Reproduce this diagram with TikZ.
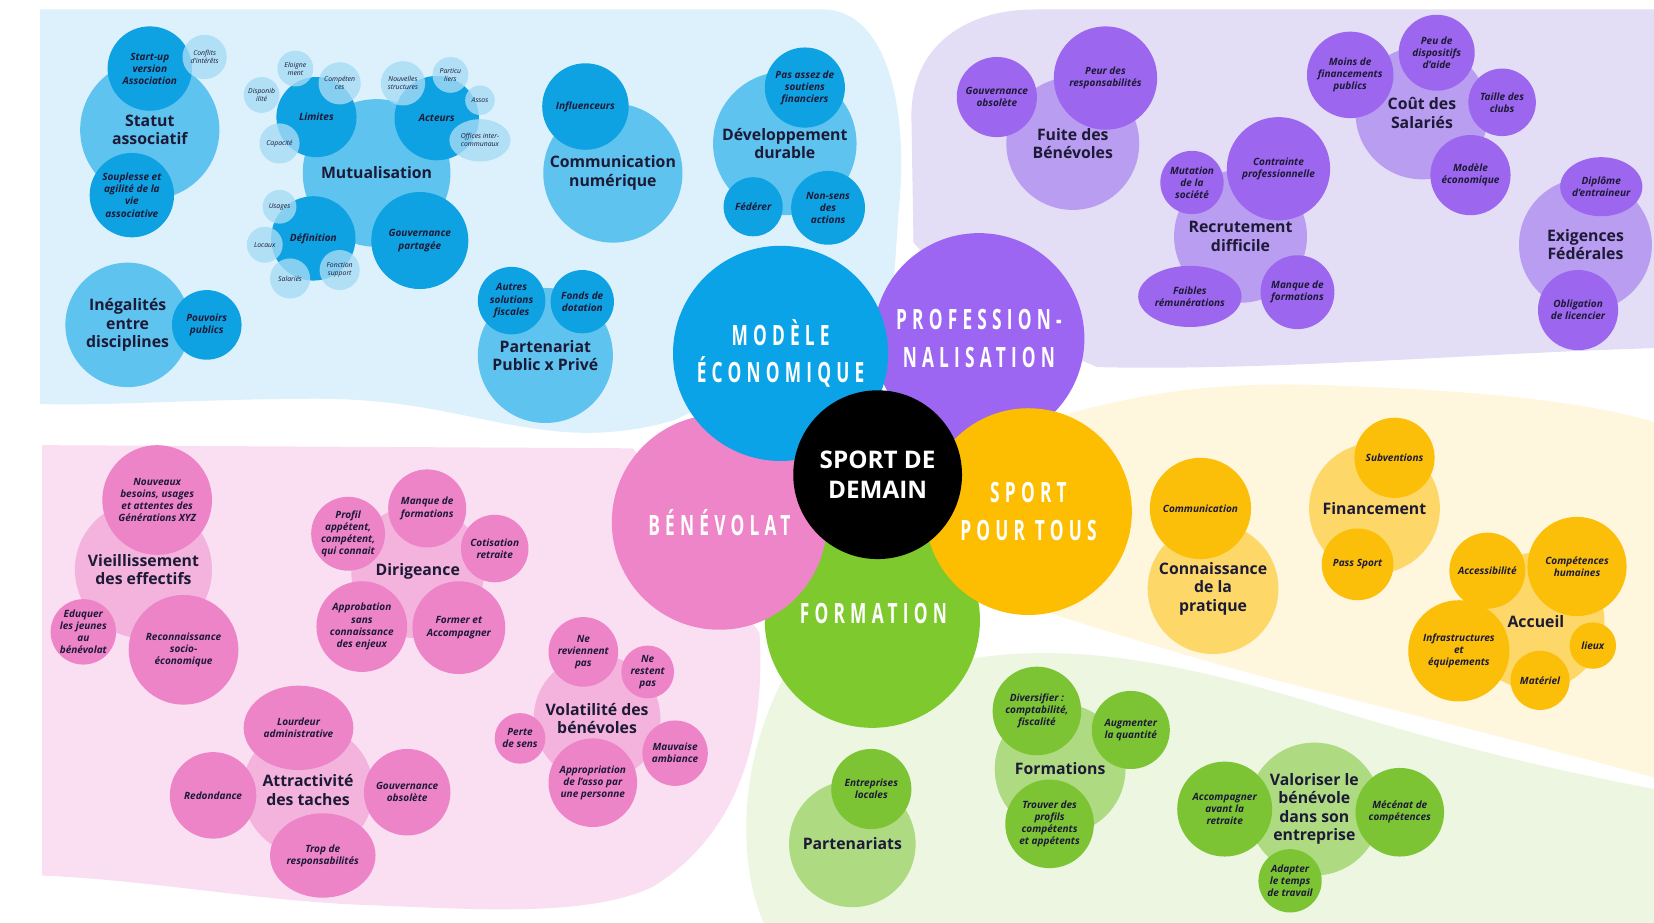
\documentclass[tikz,border=0pt]{standalone}
\usepackage{fontspec}
\usepackage{graphicx}
\setmainfont{Open Sans}
\newfontfamily\catfont[LetterSpace=30]{Open Sans}
\usetikzlibrary{shapes.geometric}

\definecolor{ink}{HTML}{1C1A36}
\definecolor{blueBg}{HTML}{DDF1FC}
\definecolor{blueA}{HTML}{5EC3EF}
\definecolor{blueB}{HTML}{0FA2E3}
\definecolor{blueC}{HTML}{A6DBF5}
\definecolor{blueM}{HTML}{0AA3E8}
\definecolor{purpleBg}{HTML}{E4DDF6}
\definecolor{purpleA}{HTML}{B99DF1}
\definecolor{purpleB}{HTML}{9C67EE}
\definecolor{purpleM}{HTML}{9D66F2}
\definecolor{yellowBg}{HTML}{FFF6DE}
\definecolor{yellowA}{HTML}{FDD868}
\definecolor{yellowB}{HTML}{FBBF0A}
\definecolor{yellowM}{HTML}{FDBD00}
\definecolor{greenBg}{HTML}{ECF6E1}
\definecolor{greenA}{HTML}{AEDB82}
\definecolor{greenB}{HTML}{7CC434}
\definecolor{greenM}{HTML}{7DC92E}
\definecolor{pinkBg}{HTML}{FADEF1}
\definecolor{pinkA}{HTML}{F4B3DC}
\definecolor{pinkB}{HTML}{EE84C8}
\definecolor{pinkM}{HTML}{EE85C8}

\newcommand{\squash}[1]{\scalebox{.62}[1]{#1}}

\tikzstyle{bub} = [circle, inner sep=0pt, align=center, text=ink]
\tikzstyle{lone} = [bub, font=\fontsize{15}{17.5}\selectfont\bfseries]
\tikzstyle{ltwo} = [bub, font=\fontsize{9.5}{11.5}\selectfont\bfseries\itshape]
\tikzstyle{lthree} = [bub, font=\fontsize{6.5}{7.5}\selectfont\itshape, fill=blueC, fill opacity=.8, text opacity=1]
\tikzstyle{theme} = [circle, inner sep=0pt, align=center, text=white, font=\catfont\bfseries\fontsize{26.5}{35.5}\selectfont]

\begin{document}
\begin{tikzpicture}[x=1pt, y=-1pt]
  \useasboundingbox (0,0) rectangle (1568,875);
  \fill[white] (0,0) rectangle (1568,875);

  % background areas
  \fill[blueBg] (38,383) -- (38,9) -- (780,9) .. controls (840,9) and (862,100) .. (852,200) -- (845,300) -- (640,398)
    .. controls (600,410) and (560,413) .. (520,408) .. controls (450,400) and (400,378) .. (300,378)
    .. controls (200,378) and (100,385) .. (38,383) -- cycle;
  \fill[purpleBg] (980,9) -- (1568,9) -- (1568,330) .. controls (1400,335) and (1200,352) .. (1040,348)
    -- (930,300) -- (866,230) -- (864,110) .. controls (864,40) and (920,9) .. (980,9) -- cycle;
  \fill[yellowBg] (985,400) .. controls (1080,372) and (1150,362) .. (1250,365)
    .. controls (1400,370) and (1500,380) .. (1568,400) -- (1568,737)
    .. controls (1450,705) and (1350,680) .. (1250,655) .. controls (1150,630) and (1080,608) .. (975,575) -- cycle;
  \fill[greenBg] (750,630) -- (900,628) .. controls (1000,608) and (1100,622) .. (1250,668)
    .. controls (1400,715) and (1500,735) .. (1568,748) -- (1568,875) -- (724,875)
    .. controls (700,820) and (697,720) .. (750,630) -- cycle;
  \fill[pinkBg] (40,830) -- (40,422) -- (600,425) -- (720,600) .. controls (726,700) and (700,790) .. (620,840)
    .. controls (560,870) and (450,862) .. (350,858) .. controls (250,855) and (150,835) .. (40,830) -- cycle;

  % modele economique
  \node[lone, fill=blueA, minimum size=132] (statut) at (142,123) {Statut\\associatif};
  \node[ltwo, fill=blueB, minimum size=80] (startup) at (142,65) {Start-up\\version\\Association};
  \node[lthree, minimum size=42] (conflits) at (194,54) {Conflits\\d'intérêts};
  \node[ltwo, fill=blueB, minimum size=80] (souplesse) at (125,185) {Souplesse et\\agilité de la\\vie\\associative};
  \node[lone, fill=blueA, minimum size=118] (inegal) at (121,308) {Inégalités\\entre\\disciplines};
  \node[ltwo, fill=blueB, minimum size=66] (pouvoirs) at (196,308) {Pouvoirs\\publics};

  \node[lone, fill=blueA, minimum size=140] (mutual) at (357,164) {Mutualisation};
  \node[ltwo, fill=blueB, minimum size=76] (limites) at (300,111) {Limites};
  \node[ltwo, fill=blueB, minimum size=80] (acteurs) at (414,112) {Acteurs};
  \node[ltwo, fill=blueB, minimum size=80] (definition) at (297,226) {Définition};
  \node[ltwo, fill=blueB, minimum size=92] (gouvpart) at (398,228) {Gouvernance\\partagée};
  \node[lthree, minimum size=34] (eloign) at (280,65) {Eloigne\\ment};
  \node[lthree, minimum size=40] (compet) at (322,79) {Compéten\\ces};
  \node[lthree, minimum size=34] (dispo) at (248,90) {Disponib\\ilité};
  \node[lthree, minimum size=38] (capac) at (265,136) {Capacité};
  \node[lthree, minimum size=42] (nouv) at (382,79) {Nouvelles\\structures};
  \node[lthree, minimum size=34] (partic) at (427,71) {Particu\\liers};
  \node[lthree, minimum size=28] (assos) at (455,95) {Assos};
  \node[lthree, ellipse, minimum width=58, minimum height=40] (offices) at (455,133) {Offices inter-\\communaux};
  \node[lthree, minimum size=32] (usages) at (265,196) {Usages};
  \node[lthree, minimum size=34] (locaux) at (251,232) {Locaux};
  \node[lthree, minimum size=38] (salaries) at (275,264) {Salariés};
  \node[lthree, minimum size=38] (fonction) at (322,256) {Fonction\\support};

  \node[lone, fill=blueA, minimum size=132] (comnum) at (581,164) {Communication\\numérique};
  \node[ltwo, fill=blueB, minimum size=82] (influ) at (555,101) {Influenceurs};

  \node[lone, fill=blueA, minimum size=136] (devdur) at (744,136) {Développement\\durable};
  \node[ltwo, fill=blueB, minimum size=76] (pasassez) at (763,83) {Pas assez de\\soutiens\\financiers};
  \node[ltwo, fill=blueB, minimum size=56] (federer) at (714,196) {Fédérer};
  \node[ltwo, fill=blueB, minimum size=70] (nonsens) at (785,197) {Non-sens\\des\\actions};

  \node[lone, fill=blueA, minimum size=128] (ppp) at (517,337) {Partenariat\\Public x Privé};
  \node[ltwo, fill=blueB, minimum size=64] (autres) at (485,285) {Autres\\solutions\\fiscales};
  \node[ltwo, fill=blueB, minimum size=60] (fonds) at (552,286) {Fonds de\\dotation};

  % professionnalisation
  \node[lone, fill=purpleA, minimum size=126] (fuite) at (1017,136) {Fuite des\\Bénévoles};
  \node[ltwo, fill=purpleB, minimum size=76] (gouvobs) at (945,92) {Gouvernance\\obsolète};
  \node[ltwo, fill=purpleB, minimum size=98] (peur) at (1048,74) {Peur des\\responsabilités};

  \node[lone, fill=purpleA, minimum size=126] (recrut) at (1176,224) {Recrutement\\difficile};
  \node[ltwo, fill=purpleB, minimum size=60] (mutation) at (1130,173) {Mutation\\de la\\société};
  \node[ltwo, fill=purpleB, minimum size=98] (contrainte) at (1212,160) {Contrainte\\professionnelle};
  \node[ltwo, ellipse, fill=purpleB, minimum width=98, minimum height=58] (faibles) at (1128,281) {Faibles\\rémunérations};
  \node[ltwo, fill=purpleB, minimum size=70] (manque) at (1230,277) {Manque de\\formations};

  \node[lone, fill=purpleA, minimum size=126] (cout) at (1348,107) {Coût des\\Salariés};
  \node[ltwo, fill=purpleB, minimum size=82] (moins) at (1280,71) {Moins de\\financements\\publics};
  \node[ltwo, fill=purpleB, minimum size=72] (peu) at (1362,50) {Peu de\\dispositifs\\d'aide};
  \node[ltwo, fill=purpleB, minimum size=64] (taille) at (1424,97) {Taille des\\clubs};
  \node[ltwo, fill=purpleB, minimum size=76] (modeco) at (1394,166) {Modèle\\économique};

  \node[lone, fill=purpleA, minimum size=126] (exig) at (1503,232) {Exigences\\Fédérales};
  \node[ltwo, ellipse, fill=purpleB, minimum width=72, minimum height=56] (diplome) at (1518,177) {Diplôme\\d'entraineur};
  \node[ltwo, fill=purpleB, minimum size=76] (oblig) at (1496,294) {Obligation\\de licencier};

  % sport pour tous
  \node[lone, fill=yellowA, minimum size=124] (connais) at (1150,558) {Connaissance\\de la\\pratique};
  \node[ltwo, fill=yellowB, minimum size=96] (commu) at (1138,482) {Communication};
  \node[lone, fill=yellowA, minimum size=124] (financ) at (1303,482) {Financement};
  \node[ltwo, fill=yellowB, minimum size=76] (subv) at (1322,434) {Subventions};
  \node[ltwo, fill=yellowB, minimum size=68] (pass) at (1287,535) {Pass Sport};
  \node[lone, fill=yellowA, minimum size=130] (accueil) at (1456,589) {Accueil};
  \node[ltwo, fill=yellowB, minimum size=72] (access) at (1410,541) {Accessibilité};
  \node[ltwo, fill=yellowB, minimum size=94] (competh) at (1495,537) {Compétences\\humaines};
  \node[ltwo, fill=yellowB, minimum size=96] (infra) at (1383,617) {Infrastructures\\et\\équipements};
  \node[ltwo, fill=yellowB, minimum size=44] (lieux) at (1510,612) {lieux};
  \node[ltwo, fill=yellowB, minimum size=56] (materiel) at (1460,645) {Matériel};

  % formation
  \node[lone, fill=greenA, minimum size=120] (parten) at (808,800) {Partenariats};
  \node[ltwo, fill=greenB, minimum size=76] (entrep) at (826,748) {Entreprises\\locales};
  \node[lone, fill=greenA, minimum size=124] (formas) at (1005,729) {Formations};
  \node[ltwo, fill=greenB, minimum size=84] (divers) at (983,674) {Diversifier :\\comptabilité,\\fiscalité};
  \node[ltwo, fill=greenB, minimum size=74] (augm) at (1072,692) {Augmenter\\la quantité};
  \node[ltwo, fill=greenB, minimum size=84] (trouver) at (995,781) {Trouver des\\profils\\compétents\\et appétents};
  \node[lone, fill=greenA, minimum size=126] (valor) at (1246,767) {Valoriser le\\bénévole\\dans son\\entreprise};
  \node[ltwo, fill=greenB, minimum size=90] (accomp) at (1161,767) {Accompagner\\avant la\\retraite};
  \node[ltwo, fill=greenB, minimum size=84] (mecenat) at (1327,770) {Mécénat de\\compétences};
  \node[ltwo, fill=greenB, minimum size=60] (adapter) at (1223,835) {Adapter\\le temps\\de travail};

  % benevolat
  \node[lone, fill=pinkA, minimum size=130] (vieil) at (136,540) {Vieillissement\\des effectifs};
  \node[ltwo, fill=pinkB, minimum size=104] (nouveaux) at (149,474) {Nouveaux\\besoins, usages\\et attentes des\\Générations XYZ};
  \node[ltwo, fill=pinkB, minimum size=62] (eduquer) at (79,599) {Eduquer\\les jeunes\\au\\bénévolat};
  \node[ltwo, fill=pinkB, minimum size=104] (reconn) at (174,616) {Reconnaissance\\socio-\\économique};

  \node[lone, fill=pinkA, minimum size=126] (dirig) at (396,542) {Dirigeance};
  \node[ltwo, fill=pinkB, minimum size=70] (profil) at (330,506) {Profil\\appétent,\\compétent,\\qui connait};
  \node[ltwo, fill=pinkB, minimum size=74] (manqueb) at (405,482) {Manque de\\formations};
  \node[ltwo, fill=pinkB, minimum size=64] (cotis) at (469,520) {Cotisation\\retraite};
  \node[ltwo, fill=pinkB, minimum size=86] (approb) at (343,594) {Approbation\\sans\\connaissance\\des enjeux};
  \node[ltwo, fill=pinkB, minimum size=88] (former) at (435,595) {Former et\\Accompagner};

  \node[lone, fill=pinkA, minimum size=124] (attract) at (292,749) {Attractivité\\des taches};
  \node[ltwo, ellipse, fill=pinkB, minimum width=104, minimum height=80] (lourdeur) at (283,690) {Lourdeur\\administrative};
  \node[ltwo, fill=pinkB, minimum size=82] (redond) at (202,754) {Redondance};
  \node[ltwo, fill=pinkB, minimum size=82] (gouvobsb) at (386,751) {Gouvernance\\obsolète};
  \node[ltwo, ellipse, fill=pinkB, minimum width=100, minimum height=80] (trop) at (306,811) {Trop de\\responsabilités};

  \node[lone, fill=pinkA, minimum size=120] (volat) at (566,681) {Volatilité des\\bénévoles};
  \node[ltwo, fill=pinkB, minimum size=66] (nereviennent) at (553,618) {Ne\\reviennent\\pas};
  \node[ltwo, fill=pinkB, minimum size=50] (nerestent) at (614,637) {Ne\\restent\\pas};
  \node[ltwo, fill=pinkB, minimum size=48] (perte) at (493,700) {Perte\\de sens};
  \node[ltwo, fill=pinkB, minimum size=62] (mauvaise) at (640,714) {Mauvaise\\ambiance};
  \node[ltwo, fill=pinkB, minimum size=84] (appropr) at (562,742) {Appropriation\\de l'asso par\\une personne};

  % themes
  \node[theme, fill=purpleM, minimum size=200] (prof) at (928,321) {\squash{PROFESSION-}\\\squash{NALISATION}};
  \node[theme, fill=greenM, minimum size=204] (formation) at (827,588) {};
  \node[theme] (formtext) at (828,582) {\squash{FORMATION}};
  \node[theme, fill=yellowM, minimum size=196] (spt) at (975,485) {\squash{SPORT}\\\squash{POUR TOUS}};
  \node[theme, fill=pinkM, minimum size=204] (benev) at (682,495) {\squash{BÉNÉVOLAT}};
  \node[theme, fill=blueM, minimum size=204] (modele) at (740,335) {\squash{MODÈLE}\\\squash{ÉCONOMIQUE}};
  \node[circle, fill=black, minimum size=160, inner sep=0pt, align=center, text=white,
    font=\fontsize{23}{28}\selectfont\bfseries] (sport) at (832,450) {SPORT DE\\DEMAIN};
\end{tikzpicture}
\end{document}
